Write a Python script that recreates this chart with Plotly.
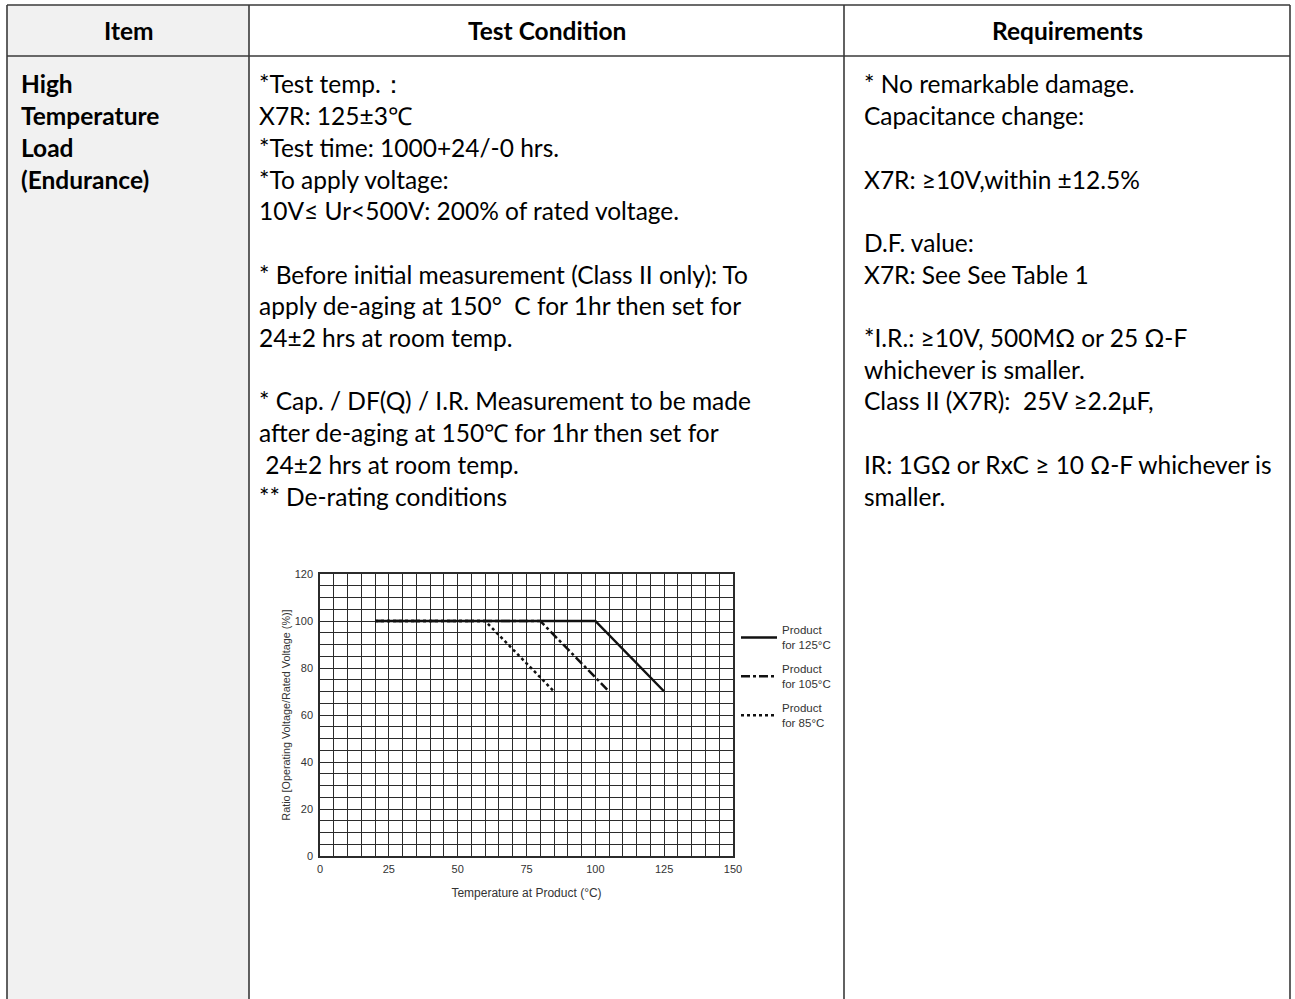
import plotly.graph_objects as go

W, H = 1295, 999

# ---------------- chart data ----------------
temp_125 = [20, 100, 125]
ratio_125 = [100, 100, 70]
temp_105 = [20, 80, 105]
ratio_105 = [100, 100, 70]
temp_85 = [20, 60, 85]
ratio_85 = [100, 100, 70]
series_names = ["Product<br>for 125°C", "Product<br>for 105°C", "Product<br>for 85°C"]
x_tick_labels = [0, 25, 50, 75, 100, 125, 150]
y_tick_labels = [0, 20, 40, 60, 80, 100, 120]
x_title = "Temperature at Product (°C)"
y_title = "Ratio [Operating Voltage/Rated Voltage (%)]"

# ---------------- table text ----------------
headers = ["Item", "Test Condition", "Requirements"]
item_lines = ["High", "Temperature", "Load", "(Endurance)"]
condition_lines = [
    "*Test temp.：",
    "X7R: 125±3℃",
    "*Test time: 1000+24/-0 hrs.",
    "*To apply voltage:",
    "10V≤ Ur<500V: 200% of rated voltage.",
    "",
    "* Before initial measurement (Class II only): To",
    "apply de-aging at 150°  C for 1hr then set for",
    "24±2 hrs at room temp.",
    "",
    "* Cap. / DF(Q) / I.R. Measurement to be made",
    "after de-aging at 150℃ for 1hr then set for",
    " 24±2 hrs at room temp.",
    "** De-rating conditions",
]
requirement_lines = [
    "* No remarkable damage.",
    "Capacitance change:",
    "",
    "X7R: ≥10V,within ±12.5%",
    "",
    "D.F. value:",
    "X7R: See See Table 1",
    "",
    "*I.R.: ≥10V, 500MΩ or 25 Ω-F",
    "whichever is smaller.",
    "Class II (X7R):  25V ≥2.2μF,",
    "",
    "IR: 1GΩ or RxC ≥ 10 Ω-F whichever is",
    "smaller.",
]


def px(x):
    return x / W


def py(y):
    return 1 - y / H


TFONT = "Lato, 'Open Sans', sans-serif"
CFONT = "'Liberation Sans', Arial, sans-serif"
col_edges = [7, 249, 844, 1290]
top, head_bottom = 5, 56
text_x = [19, 257, 862]
head_cx = [129, 547, 1067]
line_y0, line_step = 84, 31.7
TSIZE = 24.5

fig = go.Figure()

line_styles = [
    (temp_85, ratio_85, series_names[2], "dot", 3),
    (temp_105, ratio_105, series_names[1], "dashdot", 2),
    (temp_125, ratio_125, series_names[0], "solid", 1),
]
for xs, ys, name, dash, rank in line_styles:
    fig.add_trace(go.Scatter(
        x=xs, y=ys, mode="lines", name=name,
        line=dict(color="#111111", width=2.5, dash=dash),
        legendgroup=name, legendrank=rank, hoverinfo="skip",
    ))

# table shapes
shapes = [
    dict(type="rect", xref="paper", yref="paper", x0=px(col_edges[0]), x1=px(col_edges[1]),
         y0=0, y1=py(top), fillcolor="#F1F1F1", line=dict(width=0), layer="below"),
]
lc = "#3a3a3a"
for xe in col_edges:
    shapes.append(dict(type="line", xref="paper", yref="paper", x0=px(xe), x1=px(xe),
                       y0=0, y1=py(top), line=dict(color=lc, width=1.6)))
for ye in [top, head_bottom]:
    shapes.append(dict(type="line", xref="paper", yref="paper", x0=px(col_edges[0]), x1=px(col_edges[-1]),
                       y0=py(ye), y1=py(ye), line=dict(color=lc, width=1.6)))

annotations = []
for h, cx in zip(headers, head_cx):
    annotations.append(dict(text="<b>%s</b>" % h, x=px(cx), y=py(31), xref="paper", yref="paper",
                            xanchor="center", yanchor="middle", showarrow=False,
                            font=dict(family=TFONT, size=TSIZE, color="#000")))
for ci, lines in enumerate([item_lines, condition_lines, requirement_lines]):
    for i, t in enumerate(lines):
        if not t:
            continue
        txt = "<b>%s</b>" % t if ci == 0 else t
        annotations.append(dict(text=txt, x=px(text_x[ci]), y=py(line_y0 + i * line_step),
                                xref="paper", yref="paper", xanchor="left", yanchor="middle",
                                showarrow=False, font=dict(family=TFONT, size=TSIZE, color="#000")))

grid_c = "#2b2b2b"
fig.update_layout(
    width=W, height=H, autosize=False,
    margin=dict(l=0, r=0, t=0, b=0),
    paper_bgcolor="white", plot_bgcolor="white",
    shapes=shapes, annotations=annotations,
    showlegend=True,
    legend=dict(x=px(736), y=py(616), xanchor="left", yanchor="top",
                font=dict(family=CFONT, size=11.5, color="#333"),
                bgcolor="rgba(0,0,0,0)", tracegroupgap=6, itemwidth=36),
    xaxis=dict(domain=[px(320), px(733)], range=[0, 150], tickvals=x_tick_labels,
               showgrid=True, gridcolor=grid_c, gridwidth=1,
               minor=dict(dtick=5, tick0=0, showgrid=True, gridcolor=grid_c, gridwidth=1),
               showline=True, linecolor=grid_c, linewidth=1.5, mirror=True, zeroline=False,
               tickfont=dict(family=CFONT, size=11, color="#333"), ticks="",
               ticklabelstandoff=2, automargin=False, fixedrange=True,
               title=dict(text=x_title, font=dict(family=CFONT, size=12, color="#333"), standoff=15)),
    yaxis=dict(domain=[py(856), py(574)], range=[0, 120], tickvals=y_tick_labels,
               showgrid=True, gridcolor=grid_c, gridwidth=1,
               minor=dict(dtick=5, tick0=0, showgrid=True, gridcolor=grid_c, gridwidth=1),
               showline=True, linecolor=grid_c, linewidth=1.5, mirror=True, zeroline=False,
               tickfont=dict(family=CFONT, size=11, color="#333"), ticks="",
               ticklabelstandoff=3, automargin=False, fixedrange=True,
               title=dict(text=y_title, font=dict(family=CFONT, size=10.8, color="#333"), standoff=2)),
)

fig.write_html("out.html", config={"displayModeBar": False},
               post_script="document.body.style.margin='0';")
